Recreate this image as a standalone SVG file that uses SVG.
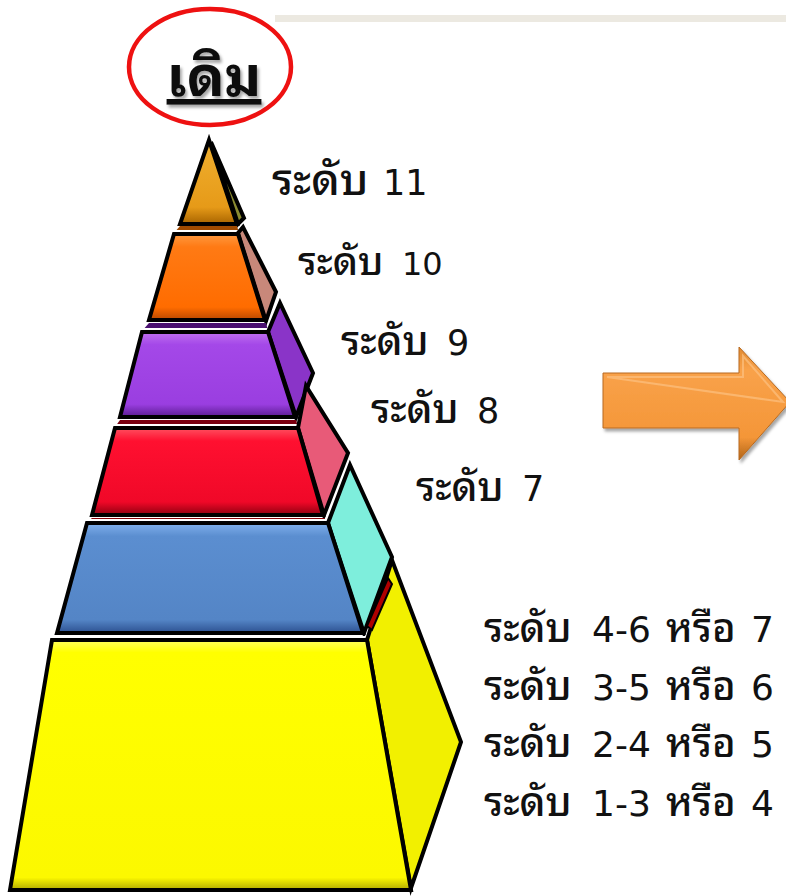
<svg xmlns="http://www.w3.org/2000/svg" width="786" height="896" viewBox="0 0 786 896">
<defs>
<style>
.th{font-family:"Noto Sans Thai Looped","DejaVu Sans",sans-serif;fill:#111;font-weight:500;}
.dg{font-family:"DejaVu Sans","Noto Sans",sans-serif;}
.face{stroke:#000;stroke-width:4;stroke-linejoin:miter;}
.halo{fill:none;stroke:#fff;stroke-width:8;stroke-linejoin:miter;}
.gap{stroke:none;}
</style>
<linearGradient id="gOr" x1="0" y1="0" x2="0" y2="1"><stop offset="0" stop-color="#ff9a40"/><stop offset="0.15" stop-color="#ff7a14"/><stop offset="0.85" stop-color="#ff6c00"/><stop offset="1" stop-color="#b84800"/></linearGradient>
<linearGradient id="gGold" x1="0" y1="0" x2="0" y2="1"><stop offset="0" stop-color="#f0b030"/><stop offset="0.8" stop-color="#e69a18"/><stop offset="1" stop-color="#a86400"/></linearGradient>
<linearGradient id="gPu" x1="0" y1="0" x2="0" y2="1"><stop offset="0" stop-color="#c070f0"/><stop offset="0.15" stop-color="#a448e8"/><stop offset="0.85" stop-color="#9a3ee0"/><stop offset="1" stop-color="#5a1c90"/></linearGradient>
<linearGradient id="gRe" x1="0" y1="0" x2="0" y2="1"><stop offset="0" stop-color="#ff5060"/><stop offset="0.15" stop-color="#ff1030"/><stop offset="0.85" stop-color="#f00828"/><stop offset="1" stop-color="#900010"/></linearGradient>
<linearGradient id="gBl" x1="0" y1="0" x2="0" y2="1"><stop offset="0" stop-color="#80b0ec"/><stop offset="0.12" stop-color="#5b8ed0"/><stop offset="0.88" stop-color="#5485c6"/><stop offset="1" stop-color="#2c5090"/></linearGradient>
<linearGradient id="gYe" x1="0" y1="0" x2="0" y2="1"><stop offset="0" stop-color="#ffff60"/><stop offset="0.05" stop-color="#ffff00"/><stop offset="0.95" stop-color="#fcf800"/><stop offset="1" stop-color="#b0a800"/></linearGradient>
<linearGradient id="gArrow" x1="0" y1="0" x2="0" y2="1"><stop offset="0" stop-color="#e08a30"/><stop offset="0.2" stop-color="#f9a24a"/><stop offset="0.8" stop-color="#f49638"/><stop offset="1" stop-color="#b06418"/></linearGradient>
<filter id="sh" x="-10%" y="-10%" width="130%" height="140%"><feDropShadow dx="2" dy="3" stdDeviation="1.5" flood-color="#000" flood-opacity="0.35"/></filter>
</defs>
<rect x="0" y="0" width="786" height="896" fill="#fff"/>
<rect x="275" y="15" width="511" height="7" fill="#ece9e1"/>

<g id="title">
<ellipse cx="210" cy="67" rx="81" ry="58" fill="none" stroke="#ee1111" stroke-width="4.5"/>
<text class="th" x="214" y="96" font-size="56" font-weight="bold" text-anchor="middle" text-decoration="underline" filter="url(#sh)" style="font-weight:bold">เดิม</text>
</g>

<g id="pyramid">
<g id="level11">
<polygon class="halo" points="209,140 237,224 180,224"/>
<polygon class="face" fill="#8a8a30" points="211,142 244,218 238,224"/>
<polygon class="face" fill="url(#gGold)" points="209,140 237,224 180,224"/>
<polygon class="gap" fill="#a04a00" points="180,226 237,226 239,233 174,233"/>
</g>
<g id="level10">
<polygon class="halo" points="174,234 238,234 265,320 149,320"/>
<polygon class="face" fill="#c8887a" points="238,233 243,227 276,292 266,321"/>
<polygon class="face" fill="url(#gOr)" points="174,234 238,234 265,320 149,320"/>
<polygon class="gap" fill="#4a1070" points="149,323 266,323 268,331 142,331"/>
</g>
<g id="level9">
<polygon class="halo" points="142,332 268,332 295,417 120,417"/>
<polygon class="face" fill="#8a34c8" points="268,332 280,303 313,373 296,417"/>
<polygon class="face" fill="url(#gPu)" points="142,332 268,332 295,417 120,417"/>
<polygon class="gap" fill="#7a0010" points="120,420 296,420 298,427 115,427"/>
</g>
<g id="level8">
<polygon class="halo" points="115,428 298,428 323,515 92,515"/>
<polygon class="face" fill="#e85a78" points="298,428 306,386 348,453 324,515"/>
<polygon class="face" fill="url(#gRe)" points="115,428 298,428 323,515 92,515"/>
<polygon class="gap" fill="#8a0008" points="92,518 324,518 328,522 87,522"/>
</g>
<g id="level7">
<polygon class="halo" points="87,523 328,523 363,633 57,633"/>
<polygon class="face" fill="#7eeedc" points="328,523 350,465 392,557 364,633"/>
<polygon class="face" fill="url(#gBl)" points="87,523 328,523 363,633 57,633"/>
</g>
<g id="level1-6">
<polygon class="halo" points="52,640 367,640 411,890 10,890"/>
<polygon class="face" fill="#f2f000" points="367,640 392,560 461,742 411,888"/>
<polygon fill="#b00000" stroke="#000" stroke-width="2" points="388,578 392,584 372,630 367,626"/>
<polygon class="face" fill="url(#gYe)" points="52,640 367,640 411,890 10,890"/>
</g>
</g>

<g id="labels">
<text class="th" y="195" font-size="44"><tspan x="272">ระดับ</tspan><tspan class="dg" x="383" font-size="35">11</tspan></text>
<text class="th" y="275" font-size="39"><tspan x="298">ระดับ</tspan><tspan class="dg" x="402" font-size="32">10</tspan></text>
<text class="th" y="355" font-size="40"><tspan x="341">ระดับ</tspan><tspan class="dg" x="447" font-size="35">9</tspan></text>
<text class="th" y="423" font-size="40"><tspan x="371">ระดับ</tspan><tspan class="dg" x="477" font-size="35">8</tspan></text>
<text class="th" y="501" font-size="40"><tspan x="416">ระดับ</tspan><tspan class="dg" x="522" font-size="35">7</tspan></text>
<text class="th" y="642" font-size="40"><tspan x="484">ระดับ</tspan><tspan class="dg" x="592" font-size="36">4-6</tspan><tspan x="666">หรือ</tspan><tspan class="dg" x="751" font-size="36">7</tspan></text>
<text class="th" y="700" font-size="40"><tspan x="484">ระดับ</tspan><tspan class="dg" x="592" font-size="36">3-5</tspan><tspan x="666">หรือ</tspan><tspan class="dg" x="751" font-size="36">6</tspan></text>
<text class="th" y="757" font-size="40"><tspan x="484">ระดับ</tspan><tspan class="dg" x="592" font-size="36">2-4</tspan><tspan x="666">หรือ</tspan><tspan class="dg" x="751" font-size="36">5</tspan></text>
<text class="th" y="816" font-size="40"><tspan x="484">ระดับ</tspan><tspan class="dg" x="592" font-size="36">1-3</tspan><tspan x="666">หรือ</tspan><tspan class="dg" x="751" font-size="36">4</tspan></text>
</g>

<g id="connectors">
<g id="arrow" filter="url(#sh)">
<polygon fill="url(#gArrow)" stroke="#b86a20" stroke-width="1" points="603,373 739,373 739,347 790,402 739,460 739,428 603,428"/>
<polygon fill="none" stroke="#fcc080" stroke-width="2" opacity="0.7" points="607,377 743,377 743,356 783,402"/>
</g>
</g>
</svg>
